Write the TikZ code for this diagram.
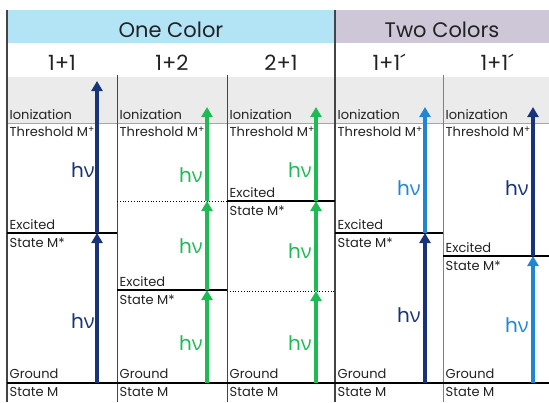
\documentclass[tikz,border=0pt]{standalone}
\usepackage{fontspec}
\setmainfont{Poppins}
\newfontfamily\gk{Open Sans}
\usetikzlibrary{arrows.meta}
\definecolor{hblue}{HTML}{B3E4F6}
\definecolor{hpurp}{HTML}{CDC7D7}
\definecolor{band}{HTML}{EBEBEB}
\definecolor{navy}{HTML}{17347A}
\definecolor{grn}{HTML}{1EBB55}
\definecolor{lblue}{HTML}{1F86D6}
\definecolor{txt}{HTML}{222222}
\definecolor{rule}{HTML}{444444}
\newcommand{\hvtxt}{h{\gk ν}}
\begin{document}
\begin{tikzpicture}[x=1pt,y=-1pt,
  lbl/.style={anchor=base west,inner sep=0,font=\fontsize{13}{14}\selectfont,text=txt},
  hvl/.style={anchor=base east,inner sep=0,font=\fontsize{20}{20}\selectfont},
  hdr/.style={anchor=base,inner sep=0,font=\fontsize{21}{21}\selectfont,text=txt},
  arr/.style={line width=3.3pt,-{Triangle[length=10pt,width=11pt]}},
  lev/.style={line width=1.3pt,black},
  dot/.style={line width=0.8pt,dotted,black},
  thr/.style={line width=1pt,gray!70},
  col/.style={line width=1pt,rule}]
\useasboundingbox (0,0) rectangle (549,402);
% header bands
\fill[hblue] (7,10) rectangle (335,43);
\fill[hpurp] (335,10) rectangle (549,43);
\fill[band] (7,77) rectangle (549,123);
% headers
\node[hdr] (one) at (171,37) {One Color};
\node[hdr] (two) at (442,37) {Two Colors};
\node[hdr] (h1) at (62,70) {1+1};
\node[hdr] (h2) at (172,70) {1+2};
\node[hdr] (h3) at (281,70) {2+1};
\node[hdr] (h4) at (389,70) {1+1´};
\node[hdr] (h5) at (497,70) {1+1´};
% coordinates of levels
\coordinate (L0) at (7,10);   \coordinate (L1) at (7,402);
\coordinate (M0) at (335,10); \coordinate (M1) at (335,402);
\coordinate (T0) at (7,123);  \coordinate (T1) at (549,123);
\coordinate (G0) at (7,383);  \coordinate (G1) at (549,383);
% threshold line
\draw[thr] (T0) -- (T1);
% column dividers
\draw[col] (117,75) -- (117,402);
\draw[col] (227,75) -- (227,402);
\draw[col,gray] (443,75) -- (443,402);
\draw[line width=1.2pt,rule] (L0) -- (L1);
\draw[line width=1.5pt,rule] (M0) -- (M1);
% excited / virtual levels
\draw[lev] (7,233) -- (117,233);
\draw[dot] (117,201) -- (227,201);
\draw[lev] (117,290) -- (227,290);
\draw[lev] (227,201) -- (335,201);
\draw[dot] (227,291) -- (335,291);
\draw[lev] (335,233) -- (443,233);
\draw[lev] (443,256) -- (549,256);
% ground
\draw[lev] (G0) -- (G1);
% arrow coordinates
\coordinate (a1g) at (97,383); \coordinate (a1e) at (97,233); \coordinate (a1t) at (97,81);
\coordinate (a2g) at (207,383); \coordinate (a2e) at (207,290); \coordinate (a2v) at (207,201); \coordinate (a2t) at (207,107);
\coordinate (a3g) at (316,383); \coordinate (a3v) at (316,291); \coordinate (a3e) at (316,201); \coordinate (a3t) at (316,107);
\coordinate (a4g) at (425,383); \coordinate (a4e) at (425,233); \coordinate (a4t) at (425,107);
\coordinate (a5g) at (533,383); \coordinate (a5e) at (533,256); \coordinate (a5t) at (533,107);
\draw[arr,navy] (a1g) -- (a1e);
\draw[arr,navy] (a1e) -- (a1t);
\draw[arr,grn] (a2g) -- (a2e);
\draw[arr,grn] (a2e) -- (a2v);
\draw[arr,grn] (a2v) -- (a2t);
\draw[arr,grn] (a3g) -- (a3v);
\draw[arr,grn] (a3v) -- (a3e);
\draw[arr,grn] (a3e) -- (a3t);
\draw[arr,navy] (a4g) -- (a4e);
\draw[arr,lblue] (a4e) -- (a4t);
\draw[arr,lblue] (a5g) -- (a5e);
\draw[arr,navy] (a5e) -- (a5t);
% h nu labels
\node[hvl,text=navy] (n1a) at (95,177) {\hvtxt};
\node[hvl,text=navy] (n1b) at (95,328) {\hvtxt};
\node[hvl,text=grn] (n2a) at (203,182) {\hvtxt};
\node[hvl,text=grn] (n2b) at (203,253) {\hvtxt};
\node[hvl,text=grn] (n2c) at (203,350) {\hvtxt};
\node[hvl,text=grn] (n3a) at (312,177) {\hvtxt};
\node[hvl,text=grn] (n3b) at (312,258) {\hvtxt};
\node[hvl,text=grn] (n3c) at (312,350) {\hvtxt};
\node[hvl,text=lblue] (n4a) at (421,195) {\hvtxt};
\node[hvl,text=navy] (n4b) at (421,322) {\hvtxt};
\node[hvl,text=navy] (n5a) at (529,195) {\hvtxt};
\node[hvl,text=lblue] (n5b) at (529,332) {\hvtxt};
% level labels
\foreach \x/\n in {9.5/1,119.5/2,229.5/3,337.5/4,445.5/5}{
  \node[lbl] (ion\n) at (\x,119) {Ionization};
  \node[lbl] (thr\n) at (\x,136.5) {Threshold M\textsuperscript{+}};
  \node[lbl] (gr\n) at (\x,378.5) {Ground};
  \node[lbl] (st\n) at (\x,396) {State M};
}
\node[lbl] (ex1) at (9.5,229) {Excited};
\node[lbl] (sm1) at (9.5,247) {State M*};
\node[lbl] (ex2) at (119.5,286) {Excited};
\node[lbl] (sm2) at (119.5,304) {State M*};
\node[lbl] (ex3) at (229.5,197) {Excited};
\node[lbl] (sm3) at (229.5,215) {State M*};
\node[lbl] (ex4) at (337.5,229) {Excited};
\node[lbl] (sm4) at (337.5,247) {State M*};
\node[lbl] (ex5) at (445.5,252) {Excited};
\node[lbl] (sm5) at (445.5,270) {State M*};
\end{tikzpicture}
\end{document}
